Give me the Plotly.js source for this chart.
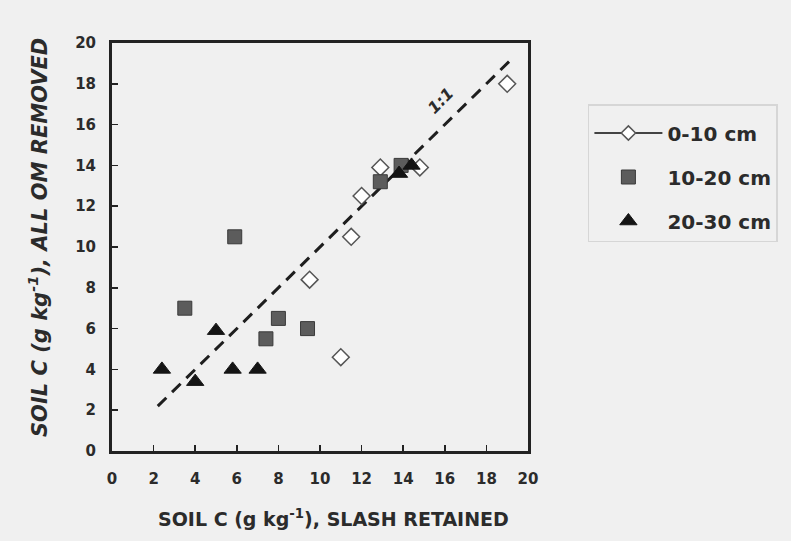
<!DOCTYPE html>
<html>
<head>
<meta charset="utf-8">
<script src="https://cdn.plot.ly/plotly-3.0.1.min.js"></script>
<style>html,body{margin:0;padding:0;background:#f0f0f0;}#chart{width:791px;height:541px;}</style>
</head>
<body>
<div id="chart"></div>
<script>
// 0-10 cm (open diamonds)
const d010X = [19.0, 14.8, 12.9, 12.0, 11.5, 9.5, 11.0];
const d010Y = [18.0, 13.9, 13.9, 12.5, 10.5, 8.4, 4.6];
// 10-20 cm (grey squares)
const d1020X = [5.9, 3.5, 8.0, 7.4, 9.4, 12.9, 13.9];
const d1020Y = [10.5, 7.0, 6.5, 5.5, 6.0, 13.2, 14.0];
// 20-30 cm (black triangles)
const d2030X = [2.4, 4.0, 5.0, 5.8, 7.0, 13.8, 14.4];
const d2030Y = [4.0, 3.4, 5.9, 4.0, 4.0, 13.6, 14.0];
// 1:1 line
const oneToOneX = [2.2, 19.1];
const oneToOneY = [2.2, 19.1];
const seriesNames = ['0-10 cm', '10-20 cm', '20-30 cm'];
const tickVals = [0, 2, 4, 6, 8, 10, 12, 14, 16, 18, 20];
const xTitle = 'SOIL C (g kg<sup>-1</sup>), SLASH RETAINED';
const yTitle = '<i>SOIL C (g kg<sup>-1</sup>), ALL OM REMOVED</i>';

const txt = '#2b2b2b';
const fontFam = '"DejaVu Sans", Arial, sans-serif';

const traces = [
  {x: oneToOneX, y: oneToOneY, mode: 'lines', showlegend: false, hoverinfo: 'skip',
   line: {color: '#1e1e1e', width: 3, dash: '12px,8px'}},
  {x: d010X, y: d010Y, mode: 'markers', showlegend: false, legendgroup: 'a',
   marker: {symbol: 'diamond', size: 13, color: '#ffffff', line: {color: '#555555', width: 1.5}}},
  {x: [null], y: [null], mode: 'lines+markers', name: seriesNames[0], legendgroup: 'a',
   line: {color: '#444444', width: 1.8},
   marker: {symbol: 'diamond', size: 11, color: '#ffffff', line: {color: '#555555', width: 1.5}}},
  {x: d1020X, y: d1020Y, mode: 'markers', name: seriesNames[1], legendgroup: 'b',
   marker: {symbol: 'square', size: 14, color: '#5c5c5c', line: {color: '#3a3a3a', width: 1}}},
  {x: d2030X, y: d2030Y, mode: 'markers', name: seriesNames[2], legendgroup: 'c',
   marker: {symbol: 'triangle-up', size: 15, color: '#141414', line: {color: '#141414', width: 1}}}
];

const axisCommon = {
  range: [0, 20], tickvals: tickVals, ticks: 'inside', ticklen: 6, tickwidth: 1.5, tickcolor: '#222',
  showline: true, linewidth: 3, linecolor: '#222', mirror: true, showgrid: false, zeroline: false,
  tickfont: {family: fontFam, size: 15, color: txt, weight: 'bold'}
};

const layout = {
  width: 791, height: 541,
  margin: {l: 112, r: 263, t: 43, b: 90},
  paper_bgcolor: '#f0f0f0', plot_bgcolor: '#f0f0f0',
  showlegend: true,
  xaxis: Object.assign({}, axisCommon, {ticklabelstandoff: 12}),
  yaxis: Object.assign({}, axisCommon, {ticklabelstandoff: 10}),
  legend: {
    x: 1.144, y: 0.85, xanchor: 'left', yanchor: 'top',
    bgcolor: '#f0f0f0', bordercolor: '#d6d6d6', borderwidth: 1.5,
    traceorder: 'grouped', tracegroupgap: 15, itemwidth: 68,
    title: {text: ' ', font: {family: fontFam, size: 6, color: txt}},
    font: {family: fontFam, size: 20, color: txt, weight: 'bold'}
  },
  annotations: [
    {x: 15.8, y: 17.2, xref: 'x', yref: 'y', text: '<i>1:1</i>', showarrow: false,
     textangle: -45, font: {family: fontFam, size: 16, color: txt, weight: 'bold'}},
    {x: (333 - 112) / 416, y: -(518 - 451) / 408, xref: 'paper', yref: 'paper', text: xTitle,
     showarrow: false, xanchor: 'center', yanchor: 'middle',
     font: {family: fontFam, size: 19, color: txt, weight: 'bold'}},
    {x: (38 - 112) / 416, y: (451 - 238) / 408, xref: 'paper', yref: 'paper', text: yTitle,
     showarrow: false, textangle: -90, xanchor: 'center', yanchor: 'middle',
     font: {family: fontFam, size: 21, color: txt, weight: 'bold'}}
  ]
};

Plotly.newPlot('chart', traces, layout, {displayModeBar: false, staticPlot: true});
</script>
</body>
</html>
